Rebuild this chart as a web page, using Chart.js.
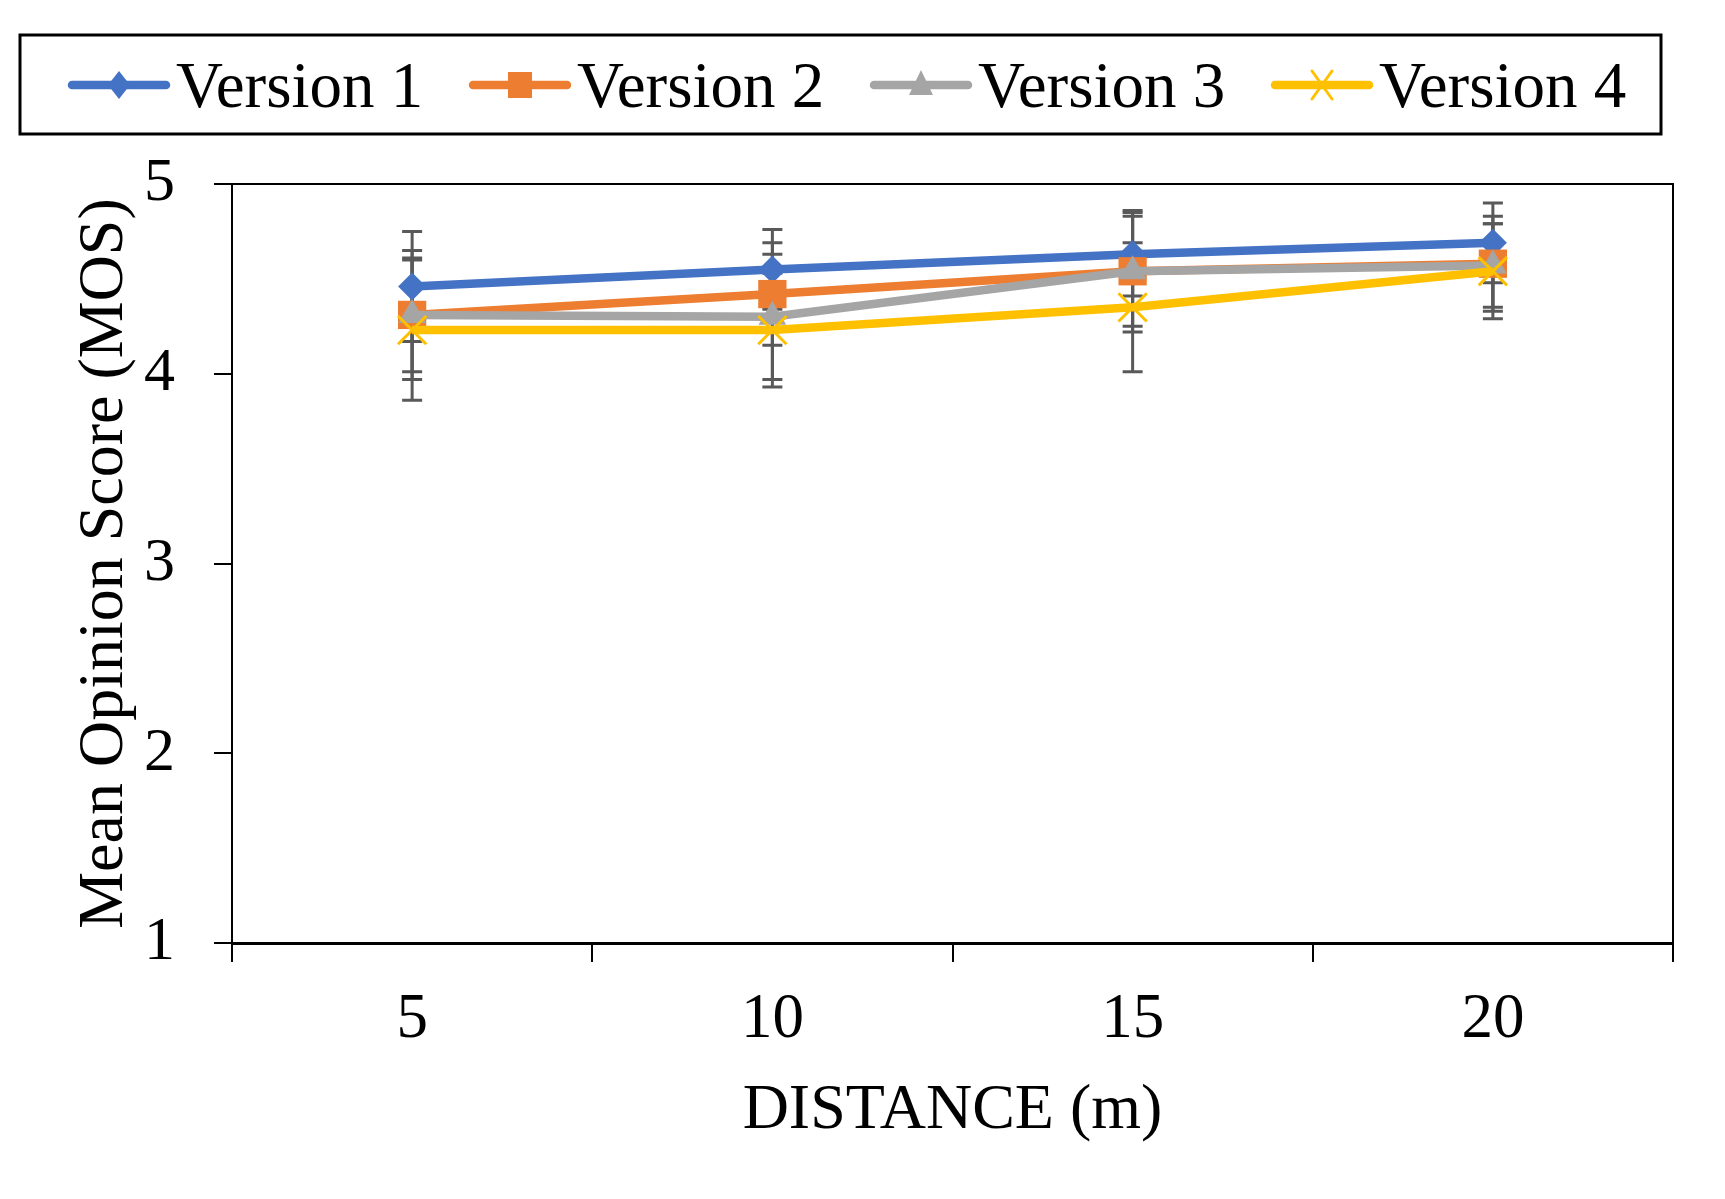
<!DOCTYPE html>
<html>
<head>
<meta charset="utf-8">
<title>MOS vs distance</title>
<script src="https://cdn.jsdelivr.net/npm/chart.js@4.4.1/dist/chart.umd.min.js"></script>
<style>
  html, body { margin: 0; padding: 0; background: #fff; }
  #mosChart { display: block; }
</style>
</head>
<body>
<canvas id="mosChart" width="1725" height="1199"></canvas>
<script>
// values (mean opinion score and its error bar half-length)
const distances = ['5', '10', '15', '20'];
const yTicks = [1, 2, 3, 4, 5];

const version1 = [4.46, 4.55, 4.63, 4.69];
const version2 = [4.31, 4.42, 4.54, 4.58];
const version3 = [4.31, 4.30, 4.54, 4.57];
const version4 = [4.23, 4.23, 4.35, 4.54];

const version1Err = [0.29, 0.21, 0.22, 0.21];
const version2Err = [0.34, 0.27, 0.29, 0.25];
const version3Err = [0.30, 0.33, 0.32, 0.22];
const version4Err = [0.37, 0.30, 0.34, 0.25];

const FONT = '"Liberation Serif", "Times New Roman", serif';
const LINE_W = 8.5;

// error bars go under the lines, like in the original
const errorBars = {
  id: 'errorBars',
  beforeDatasetsDraw(chart) {
    const { ctx, scales: { x, y } } = chart;
    ctx.save();
    ctx.strokeStyle = '#595959';
    ctx.lineWidth = 3;
    chart.data.datasets.forEach(ds => {
      ds.data.forEach((v, i) => {
        const px = x.getPixelForValue(i);
        const top = y.getPixelForValue(v + ds.errors[i]);
        const bot = y.getPixelForValue(v - ds.errors[i]);
        ctx.beginPath();
        ctx.moveTo(px, top); ctx.lineTo(px, bot);
        ctx.moveTo(px - 10, top); ctx.lineTo(px + 10, top);
        ctx.moveTo(px - 10, bot); ctx.lineTo(px + 10, bot);
        ctx.stroke();
      });
    });
    ctx.restore();
  }
};

function drawMarker(ctx, style, x, y, color) {
  ctx.save();
  ctx.fillStyle = color;
  ctx.strokeStyle = color;
  ctx.beginPath();
  if (style === 'rectRot') {
    ctx.moveTo(x, y - 14); ctx.lineTo(x + 11, y); ctx.lineTo(x, y + 14); ctx.lineTo(x - 11, y);
    ctx.closePath(); ctx.fill();
  } else if (style === 'rect') {
    ctx.rect(x - 12, y - 13, 24, 26); ctx.fill();
  } else if (style === 'triangle') {
    ctx.moveTo(x, y - 15); ctx.lineTo(x + 12, y + 10); ctx.lineTo(x - 12, y + 10);
    ctx.closePath(); ctx.fill();
  } else {
    ctx.lineWidth = 3;
    ctx.moveTo(x - 10, y - 14); ctx.lineTo(x + 10, y + 14);
    ctx.moveTo(x + 10, y - 14); ctx.lineTo(x - 10, y + 14);
    ctx.stroke();
  }
  ctx.restore();
}

// boxed legend with line + marker samples, plus the top/right frame of the plot
const legendAndFrame = {
  id: 'legendAndFrame',
  afterDraw(chart) {
    const { ctx, chartArea: a } = chart;
    ctx.save();
    ctx.strokeStyle = '#000';
    ctx.lineWidth = 2;
    ctx.beginPath();
    ctx.moveTo(a.left - 18, a.top); ctx.lineTo(a.right, a.top); ctx.lineTo(a.right, a.bottom);
    ctx.stroke();

    ctx.lineWidth = 3;
    ctx.strokeRect(20, 35, 1641, 99);
    ctx.font = '65px ' + FONT;
    ctx.textBaseline = 'alphabetic';
    const y = 85;
    chart.data.datasets.forEach((ds, i) => {
      const x = 72 + i * 401;
      ctx.strokeStyle = ds.borderColor;
      ctx.lineWidth = LINE_W;
      ctx.lineCap = 'round';
      ctx.beginPath(); ctx.moveTo(x, y); ctx.lineTo(x + 94, y); ctx.stroke();
      drawMarker(ctx, ds.pointStyle, x + 47, y, ds.borderColor);
      ctx.fillStyle = '#000';
      ctx.fillText(ds.label, x + 104, y + 22);
    });
    ctx.restore();
  }
};

const ctx = document.getElementById('mosChart');
new Chart(ctx, {
  type: 'line',
  data: {
    labels: distances,
    datasets: [
      { label: 'Version 1', data: version1, errors: version1Err, borderColor: '#4472C4', backgroundColor: '#4472C4',
        borderWidth: LINE_W, pointStyle: 'rectRot', pointRadius: 14, pointBorderWidth: 0, order: 3 },
      { label: 'Version 2', data: version2, errors: version2Err, borderColor: '#ED7D31', backgroundColor: '#ED7D31',
        borderWidth: LINE_W, pointStyle: 'rect', pointRadius: 20, pointBorderWidth: 0, order: 2 },
      { label: 'Version 3', data: version3, errors: version3Err, borderColor: '#A5A5A5', backgroundColor: '#A5A5A5',
        borderWidth: LINE_W, pointStyle: 'triangle', pointRadius: 16, pointBorderWidth: 0, order: 1 },
      { label: 'Version 4', data: version4, errors: version4Err, borderColor: '#FFC000', backgroundColor: '#FFC000',
        borderWidth: LINE_W, pointStyle: 'crossRot', pointRadius: 20, pointBorderWidth: 3, pointBorderColor: '#FFC000', order: 0 }
    ]
  },
  options: {
    responsive: false,
    animation: false,
    devicePixelRatio: 1,
    layout: { padding: { top: 184, right: 52, bottom: 0, left: 0 } },
    elements: { line: { tension: 0 } },
    plugins: {
      legend: { display: false },
      tooltip: { enabled: false }
    },
    scales: {
      x: {
        offset: true,
        grid: { offset: true, drawOnChartArea: false, color: '#000', lineWidth: 2, tickLength: 19 },
        border: { color: '#000', width: 3 },
        ticks: { color: '#000', padding: 21, font: { family: FONT, size: 63 } },
        title: { display: true, text: 'DISTANCE (m)', color: '#000', padding: { bottom: 49 }, font: { family: FONT, size: 64 } },
        afterFit(scale) { scale.height = 256; }
      },
      y: {
        min: 1,
        max: 5,
        afterBuildTicks(scale) { scale.ticks = yTicks.map(v => ({ value: v })); },
        grid: { drawOnChartArea: false, color: '#000', lineWidth: 2, tickLength: 18 },
        border: { color: '#000', width: 2 },
        ticks: { color: '#000', padding: 39, font: { family: FONT, size: 62 } },
        title: { display: true, text: 'Mean Opinion Score (MOS)', color: '#000', padding: { top: 67 }, font: { family: FONT, size: 64 } },
        afterFit(scale) { scale.width = 232; }
      }
    }
  },
  plugins: [errorBars, legendAndFrame]
});
</script>
</body>
</html>
